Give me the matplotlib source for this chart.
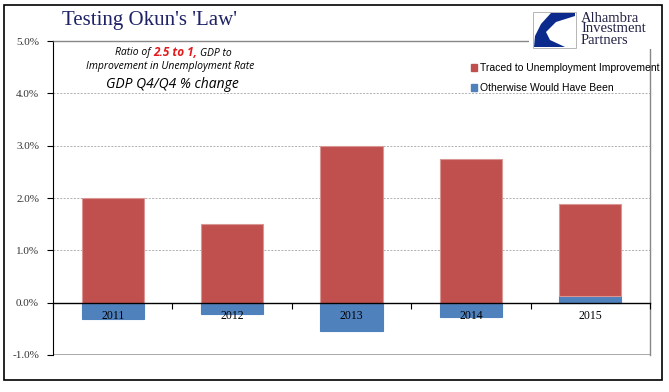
import matplotlib
matplotlib.use("Agg")
import matplotlib.pyplot as plt
from matplotlib.patches import Rectangle, Polygon
import numpy as np

years = ["2011", "2012", "2013", "2014", "2015"]
traced = [2.0, 1.5, 3.0, 2.75, 1.76]      # red part
otherwise = [-0.31, -0.22, -0.54, -0.28, 0.13]  # blue part
y_ticks = [-1, 0, 1, 2, 3, 4, 5]

red = "#C0504D"
blue = "#4F81BD"
W, H = 669, 392

fig = plt.figure(figsize=(6.69, 3.92), dpi=100)
ax = fig.add_axes([53 / W, 1 - 355 / H, 597 / W, 314 / H])
ax.set_axisbelow(False)  # keep year labels above the blue bars

x = np.arange(len(years))
# red bars sit on top of the blue part when the blue part is positive
bottoms = [o if o > 0 else 0 for o in otherwise]
ax.bar(x, otherwise, width=0.52, color=blue, edgecolor=blue, linewidth=0.8, zorder=2)
ax.bar(x, traced, width=0.52, bottom=bottoms, color=red, edgecolor="#D99694",
       linewidth=0.8, zorder=2)

ax.set_xlim(-0.5, len(years) - 0.5)
ax.set_ylim(-1, 5)
ax.set_yticks(y_ticks)
ax.set_yticklabels([f"{v:.1f}%" for v in y_ticks], family="Liberation Serif",
                   fontsize=8, color="#333333")
for v in y_ticks[2:-1]:
    ax.axhline(v, color="#b0b0b0", linestyle=(0, (2, 1.5)), linewidth=0.7, zorder=1)
ax.axhline(-1, color="#999999", linewidth=1.2, zorder=1)

# zero line as bottom spine with ticks at category boundaries
ax.spines["bottom"].set_position(("data", 0))
ax.spines["bottom"].set_linewidth(1.0)
ax.set_xticks(np.arange(len(years) + 1) - 0.5)
ax.set_xticklabels([])
ax.set_xticks(x, minor=True)
ax.set_xticklabels(years, minor=True, family="Liberation Serif", fontsize=8.5)
ax.tick_params(axis="x", which="major", direction="out", length=4, width=0.8)
ax.tick_params(axis="x", which="minor", length=0, pad=5)
ax.tick_params(axis="y", direction="out", length=4, width=0.8, pad=6)

ax.spines["left"].set_color("black")
ax.spines["top"].set_color("#888888")
ax.spines["right"].set_color("#888888")
ax.spines["top"].set_linewidth(1.0)
ax.spines["right"].set_linewidth(1.0)

# outer frame
fig.patches.append(Rectangle((4 / W, 1 - 380 / H), 658 / W, 375 / H,
                             transform=fig.transFigure, fill=False,
                             edgecolor="black", linewidth=1.2))

fig.text(62 / W, 1 - 21 / H, "Testing Okun's 'Law'", family="Liberation Serif",
         fontsize=15, color="#1F2366", va="center", ha="left")

# annotation, first line built from three pieces placed one after another
renderer = fig.canvas.get_renderer()
pieces = [("Ratio of", {}, 7.5), ("2.5 to 1,", {"weight": "bold", "color": "#E31A1C"}, 8.5),
          ("GDP to", {}, 7.5)]
px = 115
for txt, kw, fs in pieces:
    t = fig.text(px / W, 1 - 53 / H, txt, style="italic", family="Open Sans",
                 fontsize=fs, ha="left", va="center", **kw)
    px += t.get_window_extent(renderer).width + 3
fig.text(170 / W, 1 - 67 / H, "Improvement in Unemployment Rate", style="italic",
         family="Open Sans", fontsize=7.5, ha="center", va="center")
fig.text(172 / W, 1 - 84 / H, "GDP Q4/Q4 % change", style="italic", family="Open Sans",
         fontsize=10, ha="center", va="center")

# legend
handles = [Rectangle((0, 0), 1, 1, color=red), Rectangle((0, 0), 1, 1, color=blue)]
fig.legend(handles, ["Traced to Unemployment Improvement", "Otherwise Would Have Been"],
           loc="upper right", bbox_to_anchor=(665 / W, 1 - 58 / H), frameon=False,
           prop={"family": "Liberation Sans", "size": 7.5}, handlelength=0.6,
           handleheight=0.6, handletextpad=0.3, labelspacing=0.95, borderpad=0)

# logo block
fig.patches.append(Rectangle((529 / W, 1 - 49 / H), 126 / W, 42 / H,
                             transform=fig.transFigure, facecolor="white",
                             edgecolor="none", zorder=5))
fig.patches.append(Rectangle((533 / W, 1 - 48 / H), 43 / W, 36 / H,
                             transform=fig.transFigure, facecolor="white",
                             edgecolor="#aaaaaa", linewidth=0.6, zorder=6))
swoosh = [(575, 13), (551, 13), (541, 24), (535, 36), (534, 47), (565, 47),
          (550, 40), (546, 32), (556, 22), (575, 16)]
fig.patches.append(Polygon([(sx / W, 1 - sy / H) for sx, sy in swoosh],
                           closed=True, transform=fig.transFigure,
                           facecolor="#0B2A8C", edgecolor="none", zorder=7))
fig.text(581 / W, 1 - 29 / H, "Alhambra\nInvestment\nPartners", family="Liberation Serif",
         fontsize=10.5, color="#222244", ha="left", va="center", linespacing=0.8, zorder=8)

fig.savefig("out.png", dpi=100)
